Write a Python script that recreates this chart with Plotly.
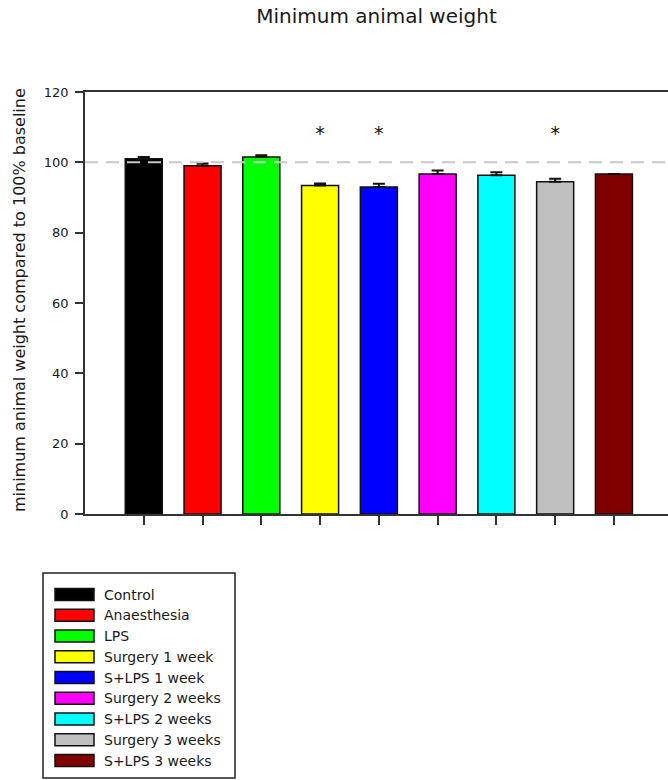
import plotly.graph_objects as go

# Group data: minimum body weight (% of baseline), mean and SEM
groups = ["Control", "Anaesthesia", "LPS", "Surgery 1 week", "S+LPS 1 week",
          "Surgery 2 weeks", "S+LPS 2 weeks", "Surgery 3 weeks", "S+LPS 3 weeks"]
mean_weight = [101.0, 99.0, 101.5, 93.4, 93.0, 96.7, 96.3, 94.5, 96.7]
sem_weight = [0.5, 0.7, 0.5, 0.6, 0.9, 1.0, 0.9, 0.8, 0.0]
significant = [False, False, False, True, True, False, False, True, False]
bar_colors = ["#000000", "#ff0000", "#00ff00", "#ffff00", "#0000ff",
              "#ff00ff", "#00ffff", "#c0c0c0", "#800000"]
y_ticks = [0, 20, 40, 60, 80, 100, 120]
baseline = 100
star_level = 107.6

# Page geometry (pixels)
W, H = 668, 780
M_L, M_R, M_T, M_B = 85, 0, 92, 266
PLOT_W = W - M_L - M_R
PLOT_H = H - M_T - M_B
FONT = "DejaVu Sans"
AXIS_COLOR = "#333333"
TEXT_COLOR = "#1a1a1a"


def px_x(px):
    return (px - M_L) / PLOT_W


def px_y(py):
    return (M_T + PLOT_H - py) / PLOT_H


xpos = list(range(len(groups)))

fig = go.Figure()

fig.add_trace(go.Bar(
    x=xpos,
    y=mean_weight,
    width=0.63,
    marker=dict(color=bar_colors, line=dict(color="#111111", width=1.5)),
    error_y=dict(type="data", symmetric=False, array=sem_weight,
                 arrayminus=[0] * len(sem_weight),
                 color="#111111", thickness=2, width=6),
    showlegend=False,
    hoverinfo="skip",
))

# Significance markers
fig.add_trace(go.Scatter(
    x=[x for x, s in zip(xpos, significant) if s],
    y=[star_level for s in significant if s],
    mode="text",
    text=["*" for s in significant if s],
    textposition="middle center",
    textfont=dict(family=FONT, size=19, color="#111111"),
    showlegend=False,
    hoverinfo="skip",
))

# 100 % baseline reference
fig.add_shape(type="line", xref="paper", x0=0, x1=1, yref="y",
              y0=baseline, y1=baseline, layer="above",
              line=dict(color="#c8c8c8", width=2, dash="13px,8px"))

# Legend box drawn by hand so that the swatches are wide rectangles
box_l, box_t, box_r, box_b = 43, 573, 235, 778
fig.add_shape(type="rect", xref="paper", yref="paper",
              x0=px_x(box_l), x1=px_x(box_r), y0=px_y(box_b), y1=px_y(box_t),
              line=dict(color="#222222", width=1.5), fillcolor="white")
row0, row_step = 594.5, 20.75
sw_l, sw_r, sw_h = 55, 94, 12
text_x = 101.5
for i, (name, col) in enumerate(zip(groups, bar_colors)):
    cy = row0 + i * row_step
    fig.add_shape(type="rect", xref="paper", yref="paper",
                  x0=px_x(sw_l), x1=px_x(sw_r),
                  y0=px_y(cy + sw_h / 2), y1=px_y(cy - sw_h / 2),
                  line=dict(color="#111111", width=1.5), fillcolor=col)
    fig.add_annotation(xref="paper", yref="paper", x=px_x(text_x), y=px_y(cy),
                       text=name, showarrow=False, xanchor="left",
                       yanchor="middle",
                       font=dict(family=FONT, size=14, color=TEXT_COLOR))

# Y-axis title
fig.add_annotation(xref="paper", yref="paper", x=px_x(19), y=px_y(300),
                   text="minimum animal weight compared to 100% baseline",
                   textangle=-90, showarrow=False, xanchor="center",
                   yanchor="middle",
                   font=dict(family=FONT, size=16, color=TEXT_COLOR))

fig.update_layout(
    width=W, height=H,
    margin=dict(l=M_L, r=M_R, t=M_T, b=M_B, pad=0),
    paper_bgcolor="white", plot_bgcolor="white",
    title=dict(text="Minimum animal weight", x=0.5, xref="paper",
               y=1 - 16 / H, yref="container", xanchor="center",
               yanchor="middle",
               font=dict(family=FONT, size=20, color=TEXT_COLOR)),
    font=dict(family=FONT, color=TEXT_COLOR),
    xaxis=dict(range=[-1, 8.92], tickvals=xpos, showticklabels=False,
               ticks="outside", ticklen=9, tickwidth=1.5,
               tickcolor=AXIS_COLOR, showline=True, linecolor=AXIS_COLOR,
               linewidth=1.5, mirror=True, showgrid=False, zeroline=False,
               fixedrange=True),
    yaxis=dict(range=[0, 120], tickvals=y_ticks, ticks="outside",
               ticklen=8, tickwidth=1.5, tickcolor=AXIS_COLOR,
               showline=True, linecolor=AXIS_COLOR, linewidth=1.5,
               showgrid=False, zeroline=False, ticklabelstandoff=4,
               tickfont=dict(family=FONT, size=13, color=TEXT_COLOR),
               fixedrange=True),
)

fig.write_html("out.html")
